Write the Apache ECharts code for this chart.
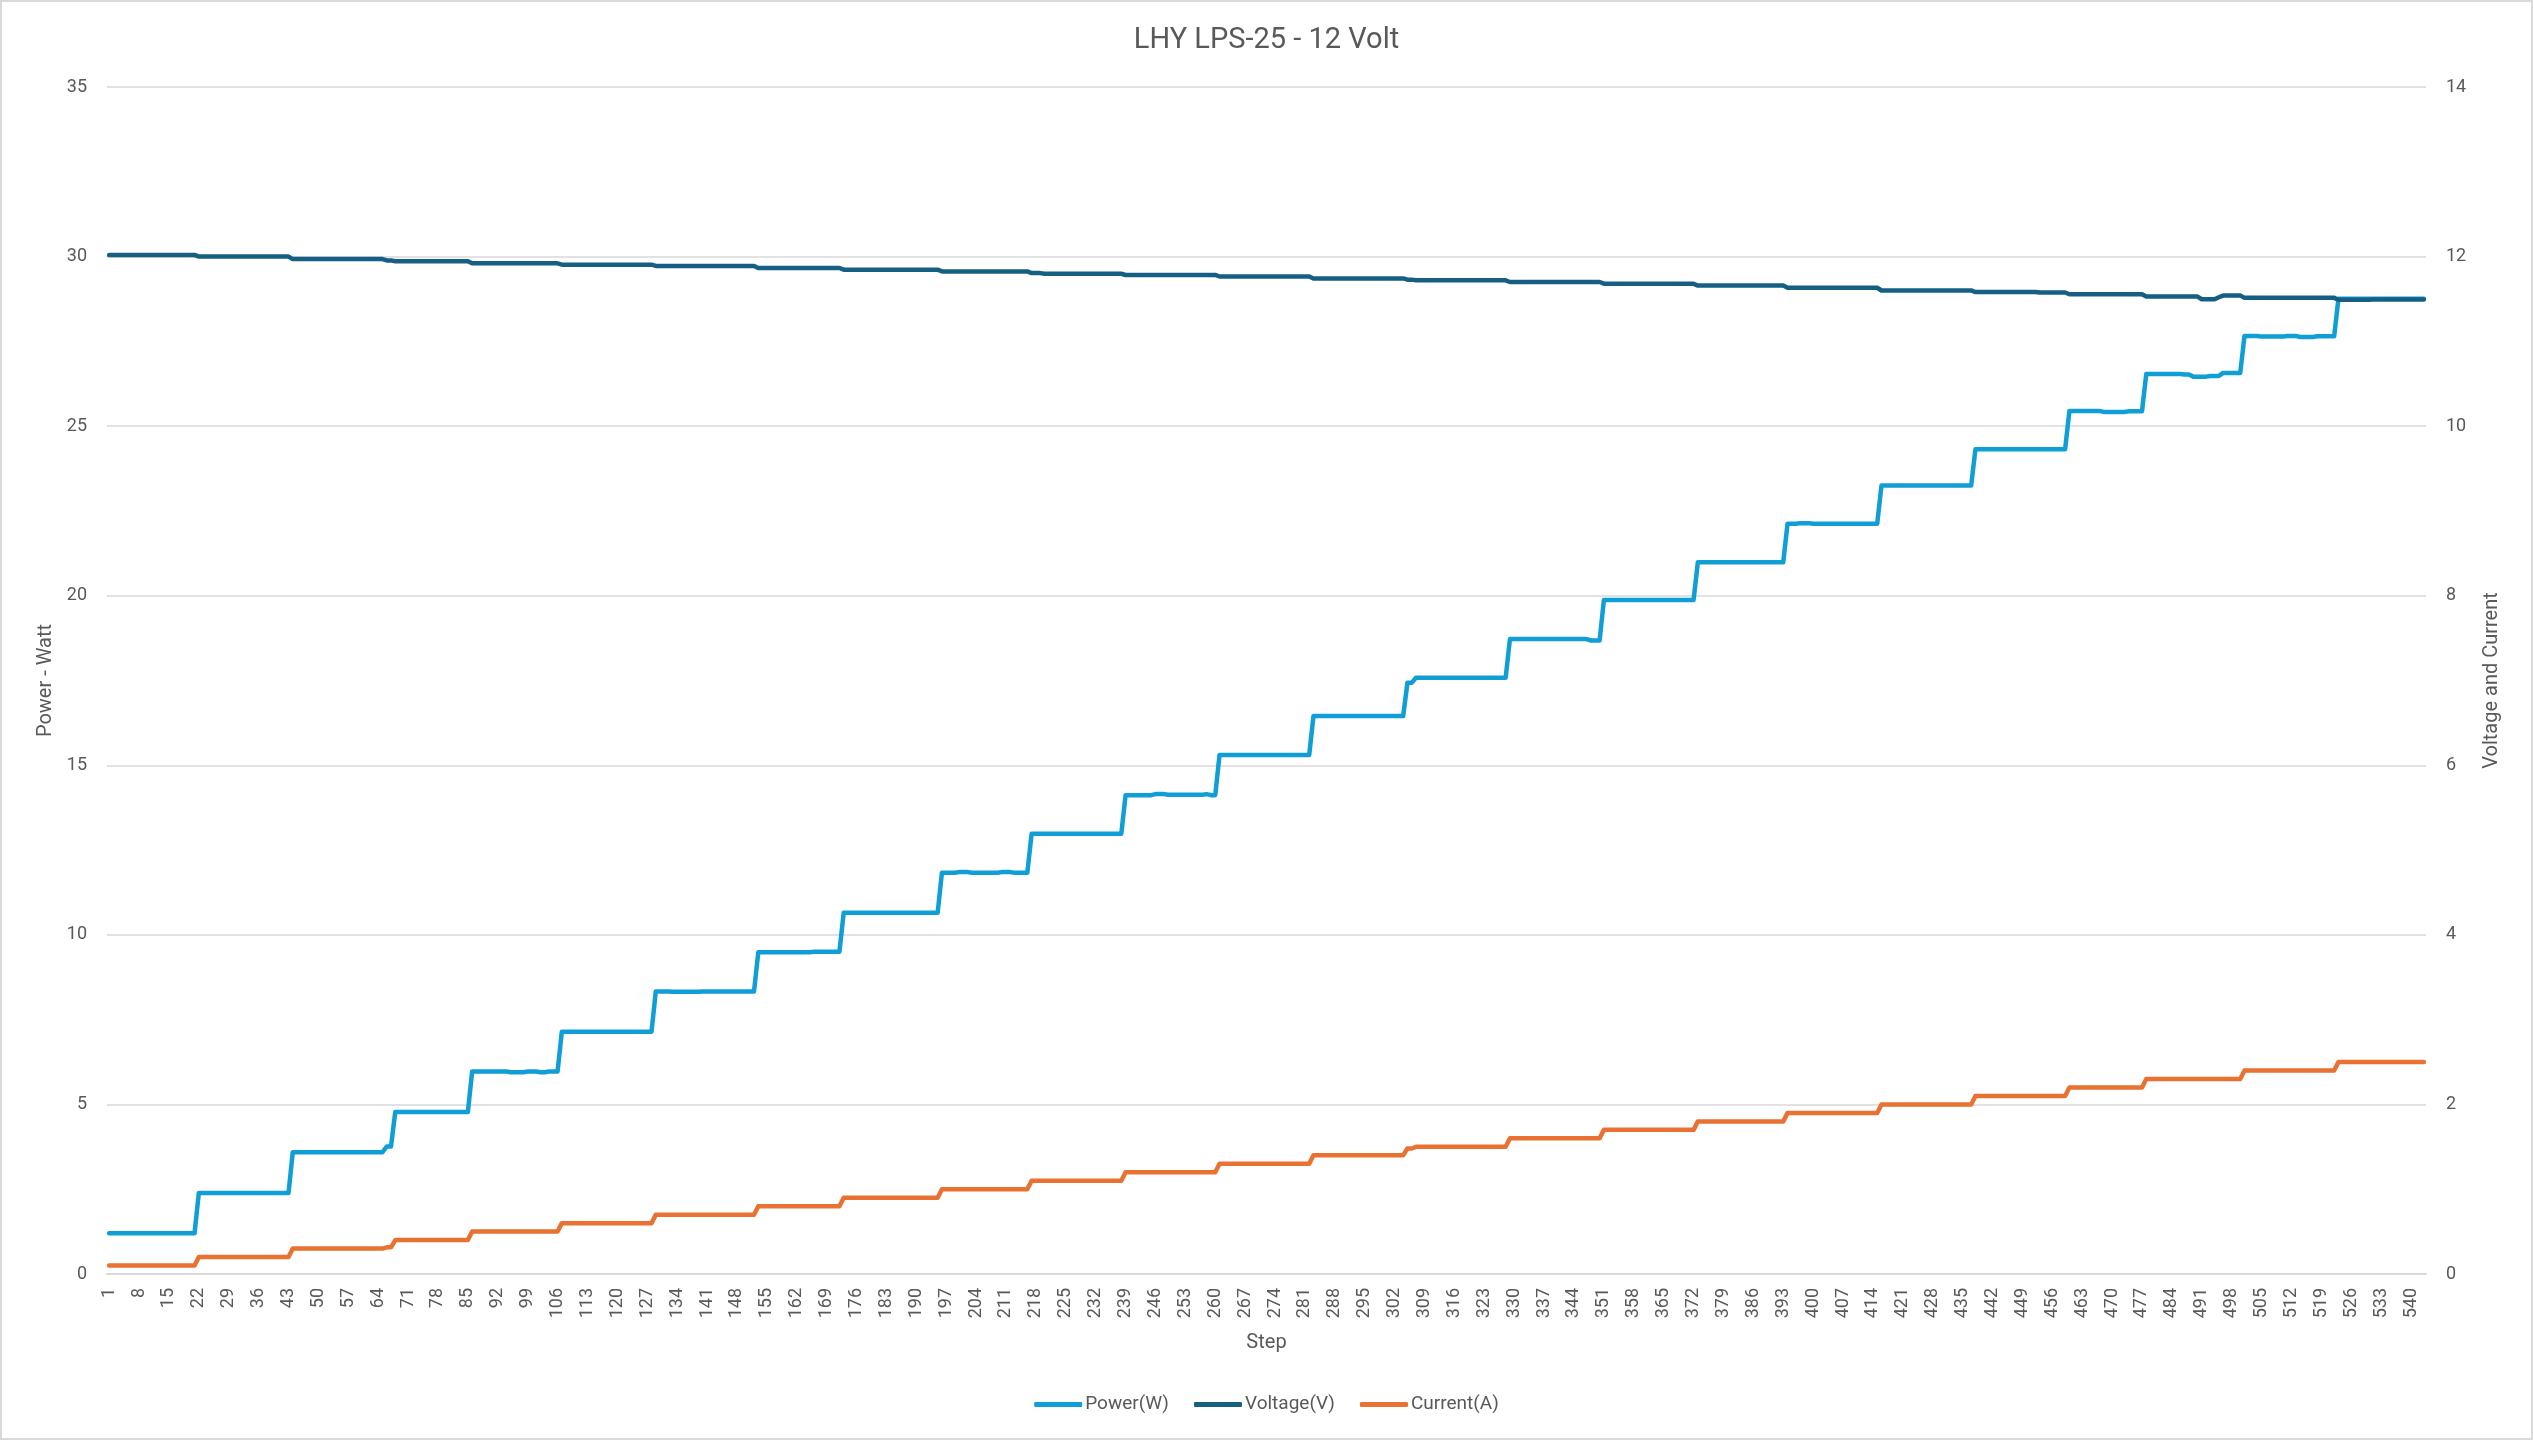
<!DOCTYPE html>
<html>
<head>
<meta charset="utf-8">
<script src="https://cdn.jsdelivr.net/npm/echarts@6/dist/echarts.min.js"></script>
<style>
html,body{margin:0;padding:0;background:#fff;}
#chart{width:2533px;height:1440px;}
</style>
</head>
<body>
<div id="chart"></div>
<script>
// ---- data ----
const stepCount = 543;
const categories = Array.from({length: stepCount}, (_, i) => String(i + 1));

// [first step of run, value] — each value holds until the next run starts
const powerRuns = [
  [1,1.2],[22,2.39],[44,3.59],[66,3.76],[68,4.78],[86,5.97],[95,5.95],[99,5.97],[102,5.95],[104,5.97],
  [107,7.14],[129,8.33],[133,8.32],[140,8.33],[153,9.49],[166,9.5],[173,10.65],[196,11.83],[200,11.85],[203,11.83],
  [210,11.85],[213,11.83],[217,12.98],[239,14.12],[246,14.15],[249,14.13],[258,14.15],[259,14.12],[261,15.3],[283,16.45],
  [305,17.43],[307,17.58],[329,18.72],[348,18.68],[351,19.87],[373,20.99],[394,22.12],[397,22.14],[400,22.12],[416,23.25],
  [438,24.32],[460,25.45],[468,25.42],[474,25.44],[478,26.54],[487,26.52],[489,26.46],[493,26.48],[496,26.57],[501,27.66],
  [505,27.64],[511,27.66],[514,27.63],[518,27.65],[523,28.76]
];
const voltageRuns = [
  [1,12.02],[22,12.0],[44,11.97],[66,11.955],[68,11.945],[86,11.92],[107,11.905],[129,11.89],[153,11.865],[173,11.845],
  [196,11.825],[217,11.805],[220,11.797],[239,11.783],[261,11.765],[283,11.742],[305,11.728],[307,11.72],[329,11.70],[351,11.68],
  [373,11.658],[394,11.632],[416,11.60],[438,11.582],[453,11.576],[460,11.556],[478,11.528],[491,11.497],[495,11.52],[496,11.54],
  [501,11.513],[523,11.49],[531,11.495]
];
const currentRuns = [
  [1,0.1],[22,0.2],[44,0.3],[66,0.315],[68,0.4],[86,0.5],[107,0.6],[129,0.7],[153,0.8],[173,0.9],
  [196,1.0],[217,1.1],[239,1.2],[261,1.3],[283,1.4],[305,1.48],[307,1.5],[329,1.6],[351,1.7],[373,1.8],
  [394,1.9],[416,2.0],[438,2.1],[460,2.2],[478,2.3],[501,2.4],[523,2.5]
];

const leftTicks = {min: 0, max: 35, interval: 5};
const rightTicks = {min: 0, max: 14, interval: 2};

function expandRuns(runs, n) {
  const out = [];
  let k = 0;
  for (let s = 1; s <= n; s++) {
    while (k + 1 < runs.length && runs[k + 1][0] <= s) k++;
    out.push(runs[k][1]);
  }
  return out;
}
const power = expandRuns(powerRuns, stepCount);
const voltage = expandRuns(voltageRuns, stepCount);
const current = expandRuns(currentRuns, stepCount);

// ---- chart ----
const FONT = 'Roboto';
const TXT = '#595959';
const chart = echarts.init(document.getElementById('chart'), null, {renderer: 'canvas'});
chart.setOption({
  animation: false,
  backgroundColor: '#ffffff',
  textStyle: {fontFamily: FONT, color: TXT},
  graphic: [{
    type: 'rect', silent: true, z: -10,
    shape: {x: 1, y: 1, width: 2531, height: 1438},
    style: {fill: 'none', stroke: '#D9D9D9', lineWidth: 2}
  }],
  title: {
    text: 'LHY LPS-25 - 12 Volt',
    left: 'center', top: 21,
    textStyle: {fontFamily: FONT, fontSize: 29, fontWeight: 'normal', color: TXT}
  },
  legend: {
    bottom: 21, left: 'center',
    icon: 'roundRect', itemWidth: 48, itemHeight: 5, itemGap: 25,
    textStyle: {fontFamily: FONT, fontSize: 19, color: TXT, padding: [0, 0, 0, -2]},
    data: ['Power(W)', 'Voltage(V)', 'Current(A)']
  },
  grid: {left: 107, right: 107, top: 87, bottom: 166, containLabel: false},
  xAxis: {
    type: 'category', data: categories, boundaryGap: true,
    name: 'Step', nameLocation: 'middle', nameGap: 59,
    nameTextStyle: {fontFamily: FONT, fontSize: 20, color: TXT},
    axisLine: {lineStyle: {color: '#D9D9D9', width: 2}},
    axisTick: {show: false},
    axisLabel: {interval: 6, rotate: 90, fontSize: 18, color: TXT, margin: 14, fontFamily: FONT},
    splitLine: {show: false}
  },
  yAxis: [{
    type: 'value', min: leftTicks.min, max: leftTicks.max, interval: leftTicks.interval,
    name: 'Power - Watt', nameLocation: 'middle', nameGap: 50,
    nameTextStyle: {fontFamily: FONT, fontSize: 20, color: TXT},
    axisLine: {show: false}, axisTick: {show: false},
    axisLabel: {fontSize: 18, color: TXT, margin: 20, fontFamily: FONT},
    splitLine: {show: true, lineStyle: {color: '#D9D9D9', width: 1.5}}
  }, {
    type: 'value', min: rightTicks.min, max: rightTicks.max, interval: rightTicks.interval,
    name: 'Voltage and Current', nameLocation: 'middle', nameGap: 56,
    nameTextStyle: {fontFamily: FONT, fontSize: 20, color: TXT},
    axisLine: {show: false}, axisTick: {show: false},
    axisLabel: {fontSize: 18, color: TXT, margin: 20, fontFamily: FONT},
    splitLine: {show: false}
  }],
  series: [{
    name: 'Power(W)', type: 'line', yAxisIndex: 0, data: power,
    showSymbol: false, symbol: 'none', color: '#0F9ED5',
    lineStyle: {width: 4.5, color: '#0F9ED5', cap: 'round', join: 'round'}
  }, {
    name: 'Voltage(V)', type: 'line', yAxisIndex: 1, data: voltage,
    showSymbol: false, symbol: 'none', color: '#156082',
    lineStyle: {width: 4.5, color: '#156082', cap: 'round', join: 'round'}
  }, {
    name: 'Current(A)', type: 'line', yAxisIndex: 1, data: current,
    showSymbol: false, symbol: 'none', color: '#E97132',
    lineStyle: {width: 4.5, color: '#E97132', cap: 'round', join: 'round'}
  }]
});
</script>
</body>
</html>
